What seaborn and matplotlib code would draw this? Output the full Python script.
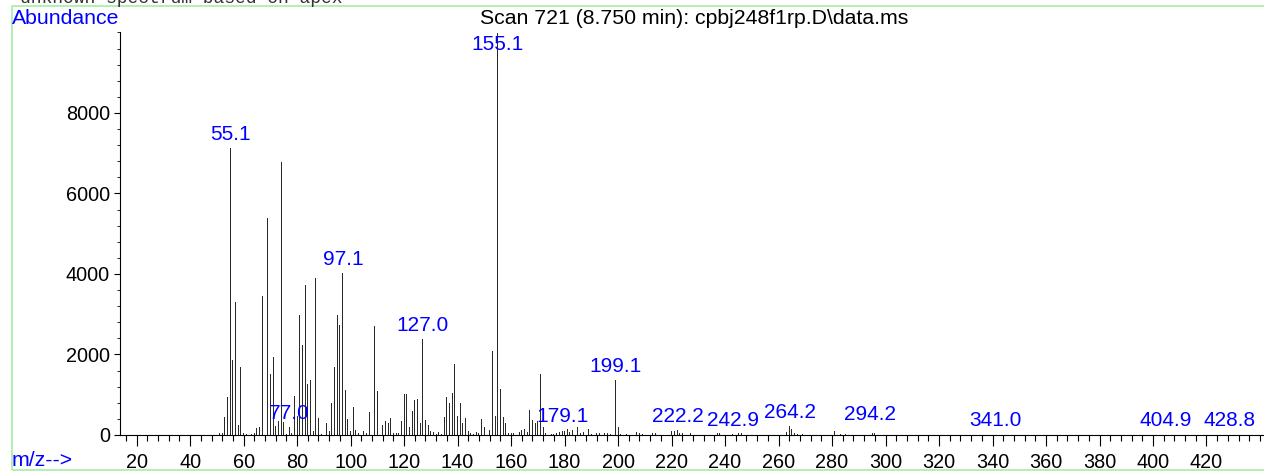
import matplotlib
matplotlib.use("Agg")
import matplotlib.pyplot as plt
from matplotlib.patches import Rectangle
from matplotlib.ticker import MultipleLocator, FixedLocator
import seaborn as sns
import pandas as pd

# ---------------- data ----------------
mz = [51, 52, 53, 54, 55.1, 56, 57, 58, 59, 60, 61, 63, 64, 65, 66, 67, 68, 69, 70,
      71, 72, 73, 74, 75, 76, 77.0, 78, 79, 80, 81, 82, 83, 84, 85, 86, 87, 88, 89,
      91, 92, 93, 94, 95, 96, 97.1, 98, 99, 100, 101, 102, 103, 105, 106, 107, 108,
      109, 110, 111, 112, 113, 114, 115, 116, 117, 118, 119, 120, 121, 122, 123, 124,
      125, 126, 127.0, 128, 129, 130, 131, 132, 133, 134, 135, 136, 137, 138, 139,
      140, 141, 142, 143, 144, 145, 146, 147, 148, 149, 150, 151, 152, 153, 154,
      155.1, 156, 157, 158, 159, 160, 161, 163, 164, 165, 166, 167, 168, 169, 170,
      171, 172, 173, 175, 176, 177, 178, 179.1, 180, 181, 182, 183, 185, 186, 187,
      189, 190, 191, 192, 193, 195, 196, 197, 199.1, 200, 201, 203, 207, 208, 209,
      213, 214, 220, 221, 222.2, 223, 224, 227, 237, 238, 242.9, 245, 246, 263,
      264.2, 265, 266, 267, 269, 281, 283, 285, 294.2, 295, 296, 341.0, 404.9, 428.8]
abundance = [40, 40, 455, 950, 7120, 1860, 3300, 250, 1700, 50, 20, 20, 40, 165, 207, 3450, 2110, 5380, 1515,
             1930, 225, 356, 6775, 330, 30, 190, 60, 970, 470, 2970, 2245, 3730, 1267, 1366, 110, 3900, 414, 25,
             306, 110, 787, 1698, 2980, 2730, 4025, 1118, 397, 100, 704, 120, 60, 110, 40, 563, 397,
             2716, 1101, 1118, 250, 340, 290, 414, 40, 40, 40, 348, 1018, 1018, 207, 596, 870,
             903, 306, 2385, 373, 248, 100, 66, 25, 83, 25, 455, 952, 803, 1052, 1764,
             480, 787, 306, 430, 108, 58, 17, 83, 58, 397, 207, 190, 124, 2087, 472,
             9980, 1135, 439, 290, 58, 40, 40, 83, 124, 141, 83, 621, 373, 306, 356,
             1515, 207, 58, 30, 30, 58, 83, 108, 100, 150, 66, 124, 207, 40, 66,
             141, 30, 30, 40, 50, 60, 40, 30, 1366, 207, 30, 20, 66, 40, 30,
             40, 50, 90, 108, 124, 60, 50, 60, 40, 60, 15, 60, 40, 83,
             224, 157, 50, 30, 20, 100, 20, 20, 182, 60, 50, 10, 10, 10]
label_mz = [55.1, 77.0, 97.1, 127.0, 155.1, 179.1, 199.1, 222.2, 242.9, 264.2, 294.2, 341.0, 404.9, 428.8]
x_ticks = list(range(20, 421, 20))
y_ticks = [0, 2000, 4000, 6000, 8000]
title_text = "Scan 721 (8.750 min): cpbj248f1rp.D\\data.ms"
header_text = "unknown spectrum based on apex"

df = pd.DataFrame({"mz": mz, "abundance": abundance})

# ---------------- style ----------------
sns.set_theme(style="white")
plt.rcParams["font.family"] = ["Liberation Sans", "DejaVu Sans"]

W, H = 1264, 472
fig = plt.figure(figsize=(W / 100, H / 100), dpi=100)
ax_left, ax_bottom, ax_top = 119.5, 435, 32
ax = fig.add_axes([ax_left / W, (H - ax_bottom) / H, 1 - ax_left / W, (ax_bottom - ax_top) / H])

sns.barplot(data=df, x="mz", y="abundance", native_scale=True, width=0.45,
            color="#2a2a2a", saturation=1, errorbar=None, linewidth=0,
            edgecolor="none", ax=ax)

ax.set_xlim(13.6, 441.5)
ax.set_ylim(0, 10010)
ax.set_xlabel("")
ax.set_ylabel("")

for s in ["top", "right"]:
    ax.spines[s].set_visible(False)
for s in ["left", "bottom"]:
    ax.spines[s].set_color("black")
    ax.spines[s].set_linewidth(0.8)

fs_tick = 14.3
fs_peak = 15
fs_text = 15.3
ax.xaxis.set_major_locator(FixedLocator(x_ticks))
ax.xaxis.set_minor_locator(MultipleLocator(4))
ax.yaxis.set_major_locator(FixedLocator(y_ticks))
ax.yaxis.set_minor_locator(MultipleLocator(400))
ax.set_xticklabels([str(t) for t in x_ticks])
ax.set_yticklabels([str(t) for t in y_ticks])
ax.tick_params(axis="x", which="major", direction="out", length=8, width=0.8,
               color="black", labelsize=fs_tick, pad=5, bottom=True, labelcolor="black")
ax.tick_params(axis="x", which="minor", direction="out", length=4.3, width=0.8,
               color="black", bottom=True)
ax.tick_params(axis="y", which="major", direction="out", length=4, width=0.8,
               color="black", labelsize=fs_tick, pad=3, left=True, labelcolor="black")
ax.tick_params(axis="y", which="minor", direction="out", length=2, width=0.6,
               color="black", left=True)
ax.grid(False)

# peak labels
ymax = ax.get_ylim()[1]
for lm in label_mz:
    val = abundance[mz.index(lm)]
    txt = f"{lm:.1f}"
    if val > 0.85 * ymax:
        ax.annotate(txt, xy=(lm, ymax), xytext=(0, -2), textcoords="offset points",
                    ha="center", va="top", color="#0000ff", fontsize=fs_peak, clip_on=False)
    else:
        ax.annotate(txt, xy=(lm, val), xytext=(0, 3), textcoords="offset points",
                    ha="center", va="bottom", color="#0000ff", fontsize=fs_peak, clip_on=False)

# figure texts
fig.text(12 / W, 1 - 9 / H, "Abundance", color="#0000ff", fontsize=fs_text, ha="left", va="top")
fig.text(12 / W, 2 / H, "m/z-->", color="#0000ff", fontsize=fs_text, ha="left", va="bottom")
fig.text(694 / W, 1 - 9 / H, title_text, color="black", fontsize=fs_text, ha="center", va="top")
fig.text(20 / W, 1 - 3 / H, header_text, color="#333333", fontsize=13,
         family=["Liberation Mono", "DejaVu Sans Mono"], ha="left", va="baseline")

# light green frame
fig.patches.append(Rectangle((12 / W, 2 / H), 1.0, (H - 8) / H, transform=fig.transFigure,
                             fill=False, edgecolor="#a6eea6", linewidth=1.2))

fig.savefig("out.png", dpi=100)
